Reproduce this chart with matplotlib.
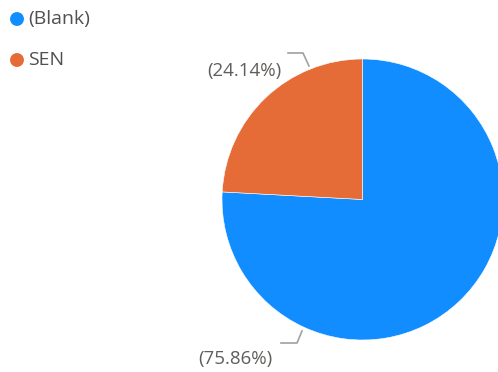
import matplotlib.pyplot as plt

# slice data
categories = ["(Blank)", "SEN"]
shares = [75.86, 24.14]
colors = ["#118DFF", "#E66C37"]

W, H = 498, 372
fig = plt.figure(figsize=(W / 100, H / 100), dpi=100)
ax = fig.add_axes([0, 0, 1, 1])
ax.set_aspect("equal")

# pie, starting at 12 o'clock and running clockwise
cx, cy, r = 362.5, H - 199.5, 140.5
ax.pie(shares, colors=colors, startangle=90, counterclock=False,
       center=(cx, cy), radius=r, frame=True,
       wedgeprops=dict(edgecolor="white", linewidth=0.4))
ax.set_xlim(0, W)
ax.set_ylim(0, H)
ax.axis("off")

font = "Open Sans"
txt_col = "#605E5C"
line_col = "#A0A0A0"

# data labels with leader lines
labels = ["({:.2f}%)".format(v) for v in shares]
# SEN label (upper left)
ax.plot([288, 303, 309], [H - 53, H - 53, H - 66], color=line_col, lw=1.2)
ax.text(244, H - 71, labels[1], ha="center", va="center", fontsize=13.5,
        color=txt_col, family=font)
# (Blank) label (lower left)
ax.plot([302, 297, 281], [H - 331, H - 343, H - 343], color=line_col, lw=1.2)
ax.text(235, H - 359, labels[0], ha="center", va="center", fontsize=13.5,
        color=txt_col, family=font)

# legend
for i, (cat, col) in enumerate(zip(categories, colors)):
    y = H - (19 + i * 41)
    ax.scatter([17], [y], s=100, color=col, edgecolors="none")
    ax.text(28, y, cat, ha="left", va="center", fontsize=14,
            color="#505050", family=font)

fig.savefig("out.png", dpi=100, facecolor="white")
